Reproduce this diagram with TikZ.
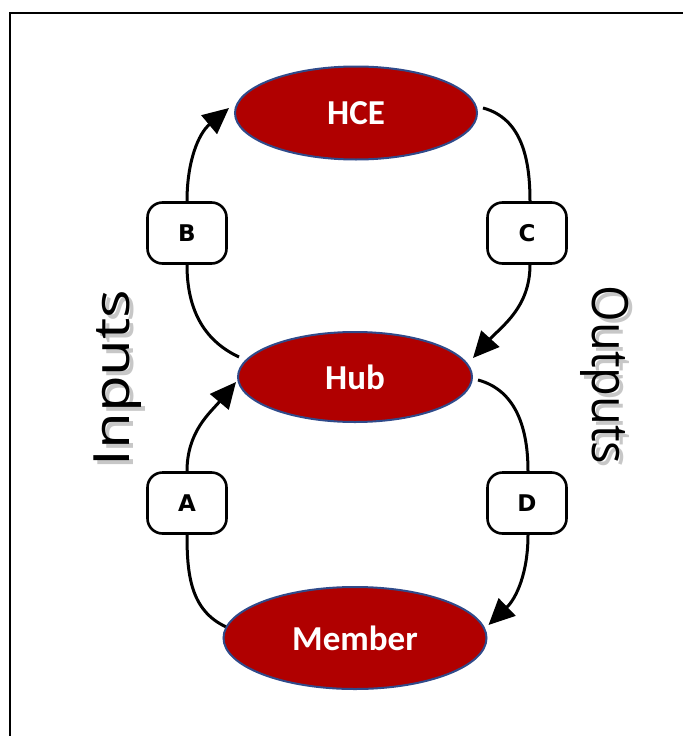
\documentclass[tikz,border=0pt]{standalone}
\usepackage{fontspec}
\setmainfont{Carlito}
\newfontfamily\boxfont{DejaVu Sans}
\newfontfamily\handfont{Open Sans}
\usetikzlibrary{arrows.meta,calc,shapes.geometric}
\definecolor{nodered}{HTML}{B00000}
\definecolor{nodeblue}{HTML}{2F4A8A}
\begin{document}
\begin{tikzpicture}[x=1pt,y=1pt,
  bigoval/.style={ellipse, fill=nodered, draw=nodeblue, line width=2pt, inner sep=0pt,
    text=white, font=\fontsize{35}{40}\selectfont\bfseries},
  tagbox/.style={draw=black, fill=white, line width=2.6pt, rounded corners=15pt,
    minimum width=79pt, minimum height=61pt, inner sep=0pt, font=\boxfont\fontsize{23}{26}\selectfont\bfseries},
  flow/.style={line width=3pt, draw=black},
  tip/.style={-{Triangle[length=26pt,width=24pt]}},
  hand/.style={inner sep=0pt, font=\handfont\fontsize{50}{56}\selectfont},
  handshadow/.style={hand, text=black!22}
]
\useasboundingbox (0,0) rectangle (683,-736);
\draw[line width=2.2pt] (10,-736) -- (10,-13) -- (683,-13);

\node[bigoval, minimum width=242pt, minimum height=93pt] (hce) at (356,-113) {HCE};
\node[bigoval, minimum width=234pt, minimum height=90pt] (hub) at (355,-377) {Hub};
\node[bigoval, minimum width=263pt, minimum height=102pt] (member) at (355,-638) {Member};

\node[tagbox] (B) at (187,-233) {B};
\node[tagbox] (C) at (527,-233) {C};
\node[tagbox] (A) at (187,-503) {A};
\node[tagbox] (D) at (527,-503) {D};

% inputs side
\draw[flow] (member.175) to[out=155,in=-90] (A.south);
\draw[flow,tip] (A.north) to[out=90,in=230] ($(hub.west)+(-1,-5)$);
\draw[flow] ($(hub.west)+(2,20)$) to[out=155,in=-90] (B.south);
\draw[flow,tip] (B.north) to[out=90,in=220] ($(hce.west)+(-5,5)$);

% outputs side
\draw[flow] ($(hce.east)+(5,5)$) to[out=-15,in=90] ($(C.north)+(3,0)$);
\draw[flow,tip] ($(C.south)+(3,0)$) to[out=-90,in=48] ($(hub.east)+(0,19)$);
\draw[flow] ($(hub.east)+(5,-3)$) to[out=-15,in=90] ($(D.north)+(1,0)$);
\draw[flow,tip] ($(D.south)+(1,0)$) to[out=-90,in=44] ($(member.east)+(1,13)$);

% side labels
\node[handshadow, rotate=90] at (122,-382) {\scalebox{1.2}[1]{Inputs}};
\node[hand, rotate=90] (inputs) at (118,-378) {\scalebox{1.2}[1]{Inputs}};
\node[handshadow, rotate=-90] at (609,-379) {\scalebox{0.94}[1]{Outputs}};
\node[hand, rotate=-90] (outputs) at (605,-375) {\scalebox{0.94}[1]{Outputs}};
\end{tikzpicture}
\end{document}
